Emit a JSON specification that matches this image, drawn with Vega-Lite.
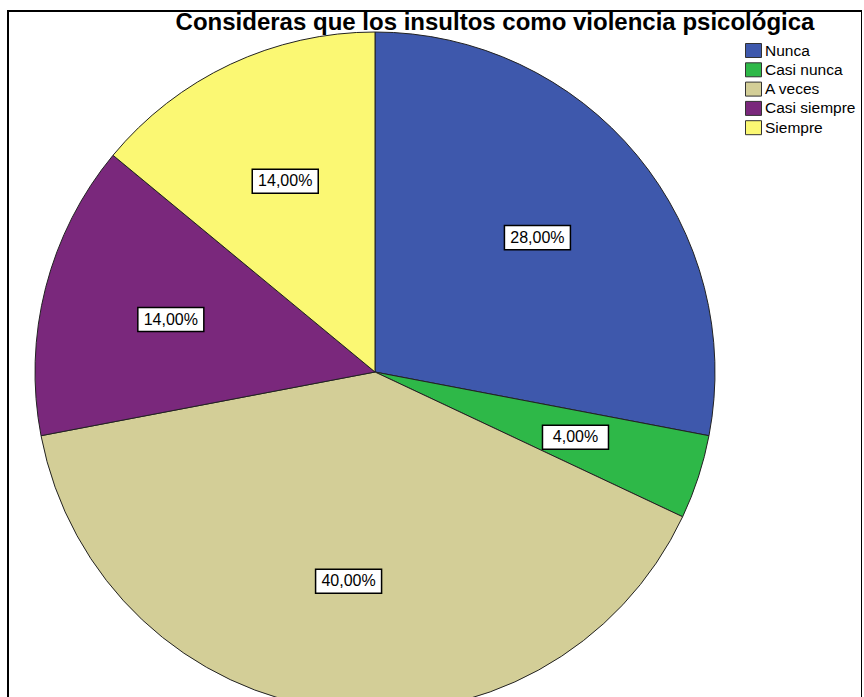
{
  "$schema": "https://vega.github.io/schema/vega-lite/v6.json",
  "autosize": {"type": "none"},
  "padding": {"left": 8, "top": 11, "right": 0, "bottom": 0},
  "width": 854,
  "height": 700,
  "background": "white",
  "title": {
    "text": "Consideras que los insultos como violencia psicológica",
    "anchor": "middle",
    "frame": "group",
    "dx": 60,
    "offset": -24
  },
  "data": {
    "values": [
      {"cat": "Nunca", "pct": 0.28, "i": 1},
      {"cat": "Casi nunca", "pct": 0.04, "i": 2},
      {"cat": "A veces", "pct": 0.40, "i": 3},
      {"cat": "Casi siempre", "pct": 0.14, "i": 4},
      {"cat": "Siempre", "pct": 0.14, "i": 5}
    ]
  },
  "transform": [
    {"window": [{"op": "sum", "field": "pct", "as": "cum"}], "sort": [{"field": "i"}], "frame": [null, 0]},
    {"calculate": "(datum.cum - datum.pct / 2) * 2 * PI", "as": "mid"},
    {"calculate": "0.62 * sin(datum.mid)", "as": "lx"},
    {"calculate": "0.62 * cos(datum.mid)", "as": "ly"}
  ],
  "layer": [
    {
      "mark": {"type": "arc", "outerRadius": 340, "stroke": "#222222", "strokeWidth": 1},
      "encoding": {
        "theta": {"field": "pct", "type": "quantitative", "stack": true},
        "order": {"field": "i", "type": "quantitative"},
        "x": {"datum": 0, "type": "quantitative", "scale": {"domain": [-1, 1], "range": [27, 707]}, "axis": null},
        "y": {"datum": 0, "type": "quantitative", "scale": {"domain": [-1, 1], "range": [701, 21]}, "axis": null},
        "color": {
          "field": "cat",
          "type": "nominal",
          "scale": {
            "domain": ["Nunca", "Casi nunca", "A veces", "Casi siempre", "Siempre"],
            "range": ["#3e58ac", "#2eb848", "#d3ce97", "#7a287c", "#fbf873"]
          },
          "legend": {
            "title": null,
            "orient": "none",
            "legendX": 737,
            "legendY": 31,
            "symbolType": "M-1,-0.875H1V0.875H-1Z",
            "symbolSize": 256,
            "symbolStrokeColor": "#333333",
            "symbolStrokeWidth": 1,
            "symbolOpacity": 1,
            "labelFontSize": 15.5,
            "labelFont": "Liberation Sans",
            "labelColor": "black",
            "labelOffset": 3,
            "rowPadding": 0.3,
            "padding": 0
          }
        }
      }
    },
    {
      "mark": {"type": "point", "shape": "M-1,-0.364H1V0.364H-1Z", "filled": true, "fill": "white", "stroke": "black", "strokeWidth": 1.5, "opacity": 1, "size": 4356},
      "encoding": {
        "x": {"field": "lx", "type": "quantitative", "scale": {"domain": [-1, 1], "range": [27, 707]}, "axis": null},
        "y": {"field": "ly", "type": "quantitative", "scale": {"domain": [-1, 1], "range": [701, 21]}, "axis": null}
      }
    },
    {
      "mark": {"type": "text", "fontSize": 16, "font": "Liberation Sans", "color": "black", "align": "center", "baseline": "middle"},
      "encoding": {
        "x": {"field": "lx", "type": "quantitative", "scale": {"domain": [-1, 1], "range": [27, 707]}, "axis": null},
        "y": {"field": "ly", "type": "quantitative", "scale": {"domain": [-1, 1], "range": [701, 21]}, "axis": null},
        "text": {"field": "pct", "type": "quantitative", "format": ".2%"}
      }
    }
  ],
  "config": {
    "view": {"stroke": "black", "strokeWidth": 2},
    "locale": {"number": {"decimal": ",", "thousands": ".", "grouping": [3], "currency": ["", " €"]}},
    "title": {"font": "Liberation Sans", "fontWeight": "bold", "fontSize": 24, "color": "black"}
  }
}
